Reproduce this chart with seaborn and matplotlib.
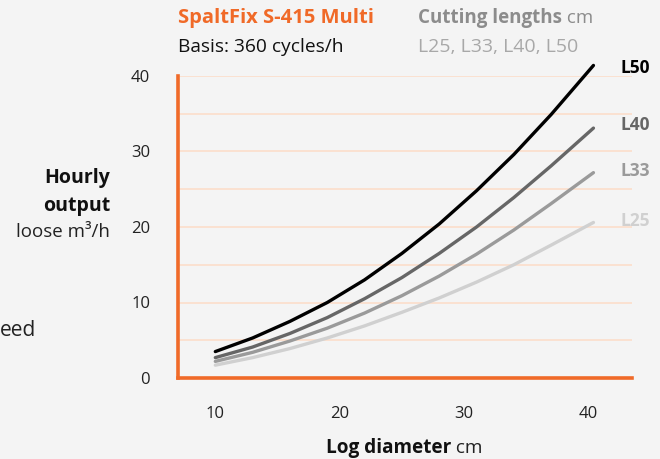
import matplotlib
matplotlib.use("Agg")
import matplotlib.pyplot as plt
import seaborn as sns
import pandas as pd
from matplotlib.ticker import MultipleLocator

# ---- data ----
diameter = [10, 13, 16, 19, 22, 25, 28, 31, 34, 37, 40.4]
L50 = [3.5, 5.3, 7.5, 10.0, 13.0, 16.5, 20.4, 24.8, 29.6, 34.9, 41.4]
L40 = [2.7, 4.1, 5.9, 8.0, 10.5, 13.3, 16.5, 20.0, 23.9, 28.1, 33.1]
L33 = [2.2, 3.4, 4.9, 6.6, 8.6, 10.9, 13.5, 16.4, 19.6, 23.1, 27.2]
L25 = [1.7, 2.7, 3.9, 5.3, 6.9, 8.7, 10.6, 12.7, 15.0, 17.6, 20.6]
series_names = ["L25", "L33", "L40", "L50"]
x_ticks = [10, 20, 30, 40]
y_ticks = [0, 10, 20, 30, 40]

ORANGE = "#f06a28"
BG = "#f4f4f4"
GRID = "#fbe1d1"
colors = {"L50": "#000000", "L40": "#666666", "L33": "#9a9a9a", "L25": "#d0d0d0"}

sns.set_style("white")
plt.rcParams["font.family"] = ["Open Sans", "DejaVu Sans"]

df = pd.concat([
    pd.DataFrame({"d": diameter, "v": vals, "s": name})
    for name, vals in zip(series_names, [L25, L33, L40, L50])
])

fig = plt.figure(figsize=(6.6, 4.59), dpi=100, facecolor=BG)
ax = fig.add_axes([178/660, 1 - 378/459, (632-178)/660, (378-76)/459])
ax.set_facecolor(BG)

sns.lineplot(data=df, x="d", y="v", hue="s", palette=colors, ax=ax,
             linewidth=2.4, legend=False, hue_order=series_names)
for ln in ax.get_lines():
    ln.set_solid_capstyle("round")
    ln.set_clip_on(False)

ax.set_xlim(7, 43.5)
ax.set_ylim(0, 40)

for gy in range(5, 45, 5):
    ax.axhline(gy, color=GRID, lw=1.4, zorder=0)

for s in ["top", "right"]:
    ax.spines[s].set_visible(False)
for s in ["left", "bottom"]:
    ax.spines[s].set_color(ORANGE)
    ax.spines[s].set_linewidth(2.6)

ax.set_xticks(x_ticks)
ax.set_yticks(y_ticks)
ax.yaxis.set_minor_locator(MultipleLocator(5))
ax.tick_params(axis="x", which="major", direction="out", length=4.5, width=2.4,
               color=ORANGE, pad=16, labelsize=12, labelcolor="#222222")
ax.tick_params(axis="y", which="both", direction="out", length=5, width=2.4,
               color=ORANGE, pad=15, labelsize=12, labelcolor="#222222")
ax.set_xlabel("")
ax.set_ylabel("")

# end labels
lab_y = {"L50": 68, "L40": 125, "L33": 171, "L25": 221}
for name in series_names:
    fig.text(620/660, 1 - lab_y[name]/459, name, color=colors[name],
             fontsize=12.5, fontweight="bold", ha="left", va="center")

fig.canvas.draw()
r = fig.canvas.get_renderer()

def after(t, text, **kw):
    bb = t.get_window_extent(r)
    x = bb.x1 / fig.bbox.width
    return fig.text(x, t.get_position()[1], text, **kw)

# title block
fig.text(178/660, 1 - 18/459, "SpaltFix S-415 Multi", color=ORANGE,
         fontsize=14.5, fontweight="bold", ha="left", va="center")
fig.text(178/660, 1 - 47/459, "Basis: 360 cycles/h", color="#111111",
         fontsize=13.8, ha="left", va="center")
t1 = fig.text(418/660, 1 - 18/459, "Cutting lengths", color="#8c8c8c",
              fontsize=13.5, fontweight="bold", ha="left", va="center")
after(t1, " cm", color="#8c8c8c", fontsize=13.5, ha="left", va="center")
fig.text(418/660, 1 - 47/459, "L25, L33, L40, L50", color="#a8a8a8",
         fontsize=14, ha="left", va="center")

# y label
fig.text(110/660, 1 - 178/459, "Hourly", fontsize=14, fontweight="bold",
         ha="right", va="center", color="#111111")
fig.text(110/660, 1 - 206/459, "output", fontsize=14, fontweight="bold",
         ha="right", va="center", color="#111111")
fig.text(110/660, 1 - 232/459, "loose m³/h", fontsize=13.5,
         ha="right", va="center", color="#222222")

# x label
fig.canvas.draw()
tx = fig.text(0, 1 - 448/459, "Log diameter", fontsize=13.7, fontweight="bold",
              ha="left", va="center", color="#111111")
tc = after(tx, " cm", fontsize=13.7, ha="left", va="center", color="#222222")
fig.canvas.draw()
w = (tc.get_window_extent(r).x1 - tx.get_window_extent(r).x0) / fig.bbox.width
x0 = 404/660 - w/2
tx.set_x(x0)
fig.canvas.draw()
tc.set_x(tx.get_window_extent(r).x1 / fig.bbox.width)

# text at left edge
fig.text(0/660, 1 - 330/459, "eed", fontsize=15, ha="left", va="center",
         color="#222222")

fig.savefig("out.png", dpi=100, facecolor=BG)
